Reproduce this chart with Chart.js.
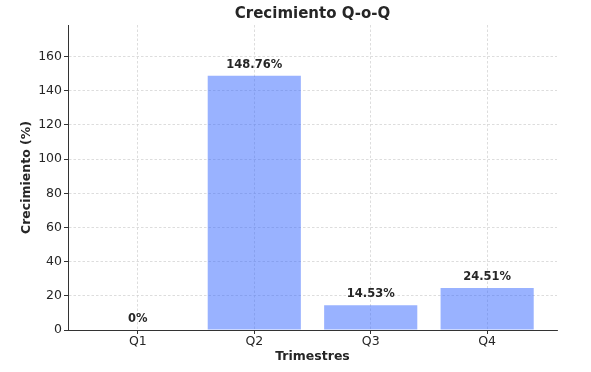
<!DOCTYPE html>
<html>
<head>
<meta charset="utf-8">
<script src="https://cdn.jsdelivr.net/npm/chart.js@4.4.1/dist/chart.umd.min.js"></script>
<style>
  html, body { margin: 0; padding: 0; background: #fff; }
  #wrap { width: 591px; height: 372px; }
</style>
</head>
<body>
<div id="wrap"><canvas id="chartQoQ" width="591" height="372"></canvas></div>
<script>
// datos
var trimestres = ['Q1', 'Q2', 'Q3', 'Q4'];
var crecimiento = [0, 148.76, 14.53, 24.51];
var ticksY = [0, 20, 40, 60, 80, 100, 120, 140, 160];

var puntos = crecimiento.map(function(v, i) { return { x: i, y: v }; });
var yMax = Math.max.apply(null, crecimiento) * 1.2;

var fuente = 'DejaVu Sans';
var colorTexto = '#262626';

// etiquetas de valor encima de cada barra
var etiquetasBarras = {
    id: 'etiquetasBarras',
    afterDatasetsDraw: function(chart) {
        var ctx = chart.ctx;
        var meta = chart.getDatasetMeta(0);
        ctx.save();
        ctx.font = 'bold 11.5px "' + fuente + '"';
        ctx.fillStyle = colorTexto;
        ctx.textAlign = 'center';
        ctx.textBaseline = 'alphabetic';
        meta.data.forEach(function(bar, i) {
            var v = crecimiento[i];
            var txt = v === 0 ? '0%' : v.toFixed(2) + '%';
            ctx.fillText(txt, bar.x, bar.y - 8);
        });
        ctx.restore();
    }
};

new Chart(document.getElementById('chartQoQ'), {
    type: 'bar',
    data: {
        datasets: [{
            data: puntos,
            backgroundColor: 'rgba(51,102,255,0.5)',
            borderWidth: 0,
            categoryPercentage: 0.8,
            barPercentage: 1.0
        }]
    },
    options: {
        responsive: false,
        animation: false,
        layout: { padding: { left: 0, right: 34, top: 0, bottom: 0 } },
        plugins: {
            legend: { display: false },
            tooltip: { enabled: false },
            title: {
                display: true,
                fullSize: false,
                text: 'Crecimiento Q-o-Q',
                color: colorTexto,
                font: { family: fuente, size: 15, weight: 'bold' },
                padding: { top: 5, bottom: 2 }
            }
        },
        scales: {
            x: {
                type: 'linear',
                min: -0.6,
                max: 3.6,
                offset: false,
                afterFit: function(s) { s.height = 42; },
                grid: { offset: false, color: '#d4d4d4', lineWidth: 0.8, tickLength: 4, tickColor: '#333', tickWidth: 1 },
                border: { display: true, color: '#333', width: 1, dash: [2.5, 2] },
                ticks: {
                    stepSize: 1,
                    includeBounds: false,
                    padding: 0,
                    color: colorTexto,
                    font: { family: fuente, size: 12.5 },
                    callback: function(v) { return trimestres[v] || ''; }
                },
                title: {
                    display: true,
                    text: 'Trimestres',
                    color: colorTexto,
                    font: { family: fuente, size: 12.5, weight: 'bold' },
                    padding: { top: 0, bottom: 8 }
                }
            },
            y: {
                min: 0,
                max: yMax,
                afterFit: function(s) { s.width = 68; },
                afterBuildTicks: function(s) { s.ticks = ticksY.map(function(v) { return { value: v }; }); },
                grid: { color: '#d4d4d4', lineWidth: 0.8, tickLength: 4, tickColor: '#333', tickWidth: 1 },
                border: { display: true, color: '#333', width: 1, dash: [2.5, 2] },
                ticks: {
                    padding: 2,
                    color: colorTexto,
                    font: { family: fuente, size: 12.5 }
                },
                title: {
                    display: true,
                    text: 'Crecimiento (%)',
                    color: colorTexto,
                    font: { family: fuente, size: 12.5, weight: 'bold' },
                    padding: { top: 19.5, bottom: 0 }
                }
            }
        }
    },
    plugins: [etiquetasBarras]
});
</script>
</body>
</html>
